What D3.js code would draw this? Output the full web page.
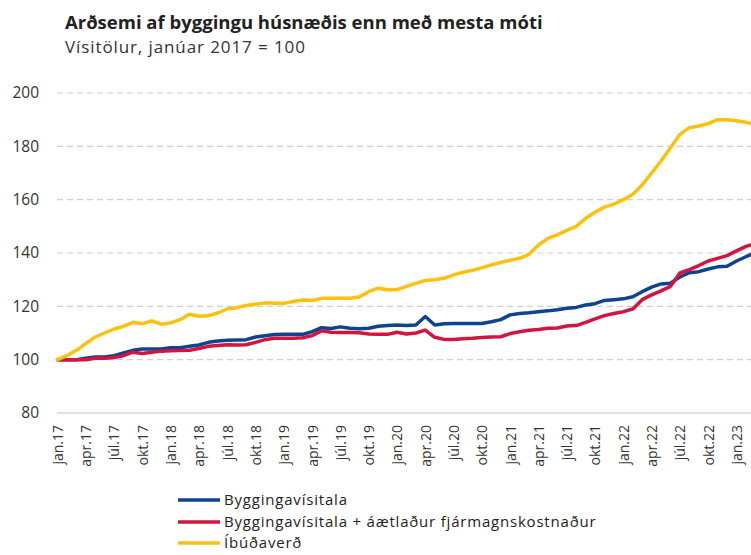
<!DOCTYPE html>
<html>
<head>
<meta charset="utf-8">
<script src="https://cdn.jsdelivr.net/npm/d3@7"></script>
<style>
  html, body { margin: 0; padding: 0; background: #fff; }
  svg { display: block; font-family: "Open Sans", "Noto Sans", sans-serif; }
</style>
</head>
<body>
<svg id="chart" width="751" height="555"></svg>
<script>
// ---- Data (monthly, jan.17 onward) ----
const monthNames = ["jan", "apr", "júl", "okt"];
const tickYears = ["17", "18", "19", "20", "21", "22", "23"];
const yTicks = [80, 100, 120, 140, 160, 180, 200];

const byggingavisitala = [
  100, 100, 100, 100.5, 101, 101, 101.5, 102.5, 103.5, 104, 104, 104,
  104.5, 104.5, 105, 105.5, 106.5, 107, 107.3, 107.4, 107.5, 108.5, 109, 109.4,
  109.5, 109.5, 109.5, 110.5, 112, 111.7, 112.3, 111.8, 111.6, 111.8, 112.5, 112.8,
  113, 112.8, 113, 116.2, 113, 113.5, 113.6, 113.6, 113.6, 113.6, 114.2, 115,
  116.8, 117.3, 117.6, 118, 118.3, 118.7, 119.3, 119.6, 120.5, 121, 122.2, 122.5,
  122.8, 123.6, 125.5, 127.2, 128.4, 128.7, 131, 132.6, 133, 134, 134.8, 135,
  137, 138.6, 140
];
const medFjarmagnskostnadi = [
  100, 100, 100, 100, 100.5, 100.5, 100.8, 101.5, 102.8, 102.3, 102.8, 103.2,
  103.3, 103.4, 103.5, 104.2, 105, 105.3, 105.6, 105.5, 105.6, 106.5, 107.5, 108,
  108, 108, 108.2, 109, 110.8, 110.3, 110.2, 110.2, 110.1, 109.6, 109.5, 109.5,
  110.3, 109.6, 110, 111.1, 108.4, 107.6, 107.6, 107.8, 108, 108.3, 108.5, 108.6,
  109.8, 110.5, 111, 111.3, 111.8, 111.9, 112.6, 112.8, 114, 115.3, 116.5, 117.3,
  118, 119, 122.5, 124.3, 125.8, 127.5, 132.5, 133.8, 135.3, 137, 138, 139,
  140.8, 142.5, 143.5
];
const ibudaverd = [
  100, 101.5, 103.5, 106, 108.5, 110, 111.5, 112.5, 114, 113.5, 114.5, 113.3,
  113.8, 115, 117, 116.3, 116.5, 117.5, 119, 119.5, 120.3, 120.8, 121.3, 121.2,
  121.1, 121.8, 122.4, 122.2, 123, 123, 123, 123, 123.5, 125.5, 126.8, 126.2,
  126.3, 127.5, 128.6, 129.7, 130, 130.5, 131.8, 132.8, 133.5, 134.5, 135.5, 136.5,
  137.3, 138, 139.5, 143, 145.5, 146.8, 148.5, 150, 153, 155.3, 157.2, 158.3,
  160, 162, 165.5, 170, 174.5, 179.5, 184.5, 187, 187.6, 188.5, 190, 190,
  189.6, 189, 188.2
];

const seriesNames = [
  "Byggingavísitala",
  "Byggingavísitala + áætlaður fjármagnskostnaður",
  "Íbúðaverð"
];
const seriesColors = ["#0f4290", "#d2143f", "#fdc00f"];
const seriesData = [byggingavisitala, medFjarmagnskostnadi, ibudaverd];

// ---- Layout ----
const svg = d3.select("#chart");
const x = d3.scaleLinear().domain([0, 72]).range([57.5, 736.5]);
const y = d3.scaleLinear().domain([80, 200]).range([413, 93]);

// Title
svg.append("text").attr("x", 65).attr("y", 29)
  .attr("font-size", 18.5).attr("font-weight", "bold").attr("fill", "#222")
  .text("Arðsemi af byggingu húsnæðis enn með mesta móti");
svg.append("text").attr("x", 65).attr("y", 53)
  .attr("font-size", 17).attr("fill", "#333")
  .attr("letter-spacing", 0.9)
  .text("Vísitölur, janúar 2017 = 100");

// Gridlines
svg.append("g").selectAll("line")
  .data(yTicks.filter(d => d > 80))
  .join("line")
  .attr("x1", 57).attr("x2", 751)
  .attr("y1", d => y(d)).attr("y2", d => y(d))
  .attr("stroke", "#cfcfcf").attr("stroke-width", 1.2)
  .attr("stroke-dasharray", "6,4");
svg.append("line")
  .attr("x1", 57).attr("x2", 751)
  .attr("y1", y(80)).attr("y2", y(80))
  .attr("stroke", "#d6d6d6").attr("stroke-width", 1.5);

// Y axis labels
const yAxis = d3.axisLeft(y).tickValues(yTicks).tickSize(0).tickPadding(0);
const yg = svg.append("g").attr("transform", "translate(39,0)").call(yAxis);
yg.select(".domain").remove();
yg.selectAll("text").attr("font-size", 15.5).attr("fill", "#333")
  .attr("font-family", "\"Open Sans\", sans-serif");

// X axis labels (every 3 months)
const tickIdx = d3.range(0, 73, 3);
const xAxis = d3.axisBottom(x).tickValues(tickIdx).tickSize(0)
  .tickFormat(i => monthNames[(i / 3) % 4] + "." + tickYears[Math.floor(i / 12)]);
const xg = svg.append("g").attr("transform", "translate(0,425)").call(xAxis);
xg.select(".domain").remove();
xg.selectAll("text")
  .attr("font-size", 14).attr("fill", "#333")
  .attr("font-family", "\"Open Sans\", sans-serif")
  .attr("text-anchor", "end")
  .attr("transform", "rotate(-90)")
  .attr("x", 0).attr("y", 0).attr("dy", "0.35em");

// Lines
const line = d3.line().x((d, i) => x(i)).y(d => y(d));
svg.append("g").selectAll("path")
  .data(seriesData)
  .join("path")
  .attr("d", d => line(d))
  .attr("fill", "none")
  .attr("stroke", (d, i) => seriesColors[i])
  .attr("stroke-width", 3.5)
  .attr("stroke-linejoin", "round")
  .attr("stroke-linecap", "round");

// Legend
const legendY = [500, 522, 543];
const lg = svg.append("g");
seriesNames.forEach((name, i) => {
  lg.append("line")
    .attr("x1", 178).attr("x2", 220)
    .attr("y1", legendY[i]).attr("y2", legendY[i])
    .attr("stroke", seriesColors[i]).attr("stroke-width", 3.5);
  lg.append("text")
    .attr("x", 224).attr("y", legendY[i]).attr("dy", "0.35em")
    .attr("font-size", 15).attr("letter-spacing", 0.8).attr("fill", "#222")
    .text(name);
});
</script>
</body>
</html>
